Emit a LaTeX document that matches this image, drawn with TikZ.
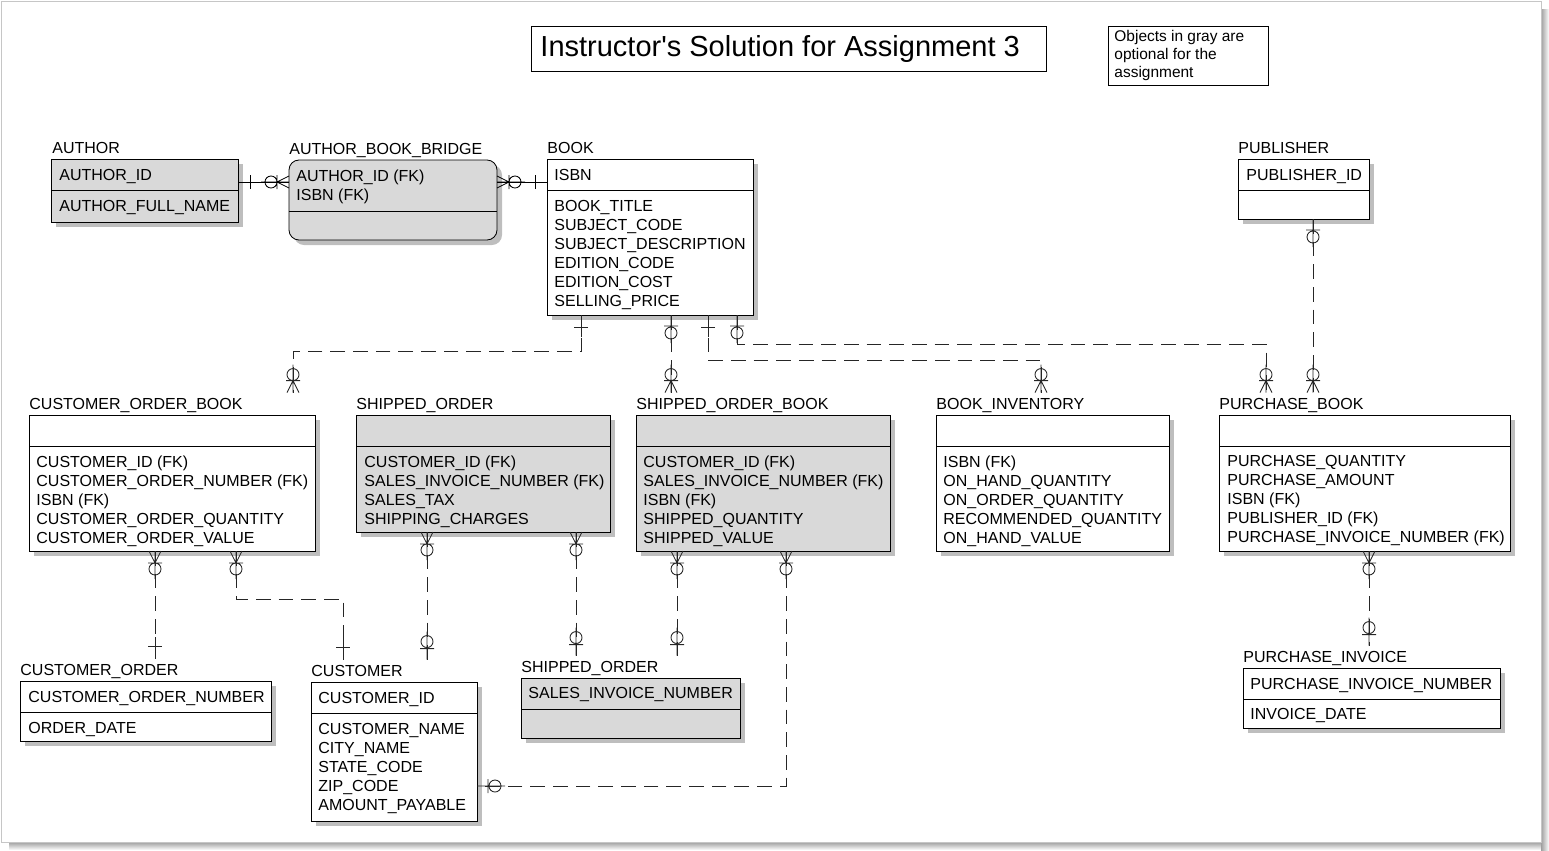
\documentclass[tikz,border=0pt]{standalone}
\usepackage{fontspec}
\setmainfont{Liberation Sans}
\usetikzlibrary{fit,shadows}

\definecolor{entgray}{RGB}{217,217,217}
\definecolor{shgray}{RGB}{190,190,190}

\tikzset{
  ent/.style={draw, fill=white, inner sep=0pt, outer sep=0pt,
    drop shadow={shadow xshift=3.75pt, shadow yshift=-3.75pt, fill=shgray, opacity=1}},
  optent/.style={ent, fill=entgray},
  lbl/.style={anchor=base west, inner sep=0pt, text height=12pt, text depth=2pt,
    font=\fontsize{12pt}{14.25pt}\selectfont},
  attr/.style={anchor=north west, inner sep=0pt, align=left,
    font=\fontsize{12pt}{14.25pt}\selectfont},
  rel/.style={black!85, dash pattern=on 11pt off 6pt},
  idrel/.style={black},
  % end marks: entity at the origin, line leaving along +x
  one/.pic={\draw[solid] (0,0) -- (22,0) (12,-7) -- (12,7);},
  zone/.pic={\draw[solid] (0,0) -- (28,0) (11,-7) -- (11,7) (18,0) circle[radius=6];},
  many/.pic={\draw[solid] (0,-6) -- (12,0) -- (0,6) (0,0) -- (28,0)
    (12,-7) -- (12,7) (18,0) circle[radius=6];}
}

\begin{document}
\begin{tikzpicture}[x=0.75pt, y=-0.75pt, line width=0.65pt]
  \useasboundingbox (0,0) rectangle (1549,850);

  % page frame
  \shade[top color=gray!75, bottom color=white] (9,842) rectangle (1549,850);
  \shade[left color=gray!75, right color=white] (1541,9) rectangle (1549,850);
  \draw[gray!45] (1,1) rectangle (1541,842);

  % title and note
  \node[draw, inner sep=0pt, fit={(531,26) (1046,71)}] (titlebox) {};
  \node[anchor=base west, inner sep=0pt, font=\fontsize{21.75pt}{26pt}\selectfont] (title) at (540,56)
    {Instructor\textquotesingle s Solution for Assignment 3};
  \node[draw, inner sep=0pt, fit={(1108,26) (1268,85)}] (notebox) {};
  \node[anchor=north west, inner sep=0pt, align=left, font=\fontsize{11.6pt}{13.5pt}\selectfont] (note) at (1114,30)
    {Objects in gray are\\optional for the\\assignment};

  % AUTHOR
  \node[lbl] (authorl) at (52,153) {AUTHOR};
  \node[optent, fit={(51,159) (238,222)}] (author) {};
  \draw (author.west |- 0,190) -- (author.east |- 0,190);
  \node[attr] (authork) at (59,169) {AUTHOR\_ID};
  \node[attr] (authora) at (59,200) {AUTHOR\_FULL\_NAME};

  % AUTHOR_BOOK_BRIDGE
  \node[lbl] (bridgel) at (289,154) {AUTHOR\_BOOK\_BRIDGE};
  \node[optent, rounded corners=7.5pt, fit={(289,160) (497,240)}] (bridge) {};
  \draw (bridge.west |- 0,211) -- (bridge.east |- 0,211);
  \node[attr] (bridgek) at (296,169) {AUTHOR\_ID (FK)\\ISBN (FK)};

  % BOOK
  \node[lbl] (bookl) at (547,153) {BOOK};
  \node[ent, fit={(547,159) (753,315)}] (book) {};
  \draw (book.west |- 0,190) -- (book.east |- 0,190);
  \node[attr] (bookk) at (554,169) {ISBN};
  \node[attr] (booka) at (554,200) {BOOK\_TITLE\\SUBJECT\_CODE\\SUBJECT\_DESCRIPTION\\EDITION\_CODE\\EDITION\_COST\\SELLING\_PRICE};

  % PUBLISHER
  \node[lbl] (publ) at (1238,153) {PUBLISHER};
  \node[ent, fit={(1238,159) (1369,219)}] (publisher) {};
  \draw (publisher.west |- 0,190) -- (publisher.east |- 0,190);
  \node[attr] (pubk) at (1246,169) {PUBLISHER\_ID};

  % CUSTOMER_ORDER_BOOK
  \node[lbl] (cobl) at (29,409) {CUSTOMER\_ORDER\_BOOK};
  \node[ent, fit={(29,415) (315,551)}] (cob) {};
  \draw (cob.west |- 0,446) -- (cob.east |- 0,446);
  \node[attr] (coba) at (36,455) {CUSTOMER\_ID (FK)\\CUSTOMER\_ORDER\_NUMBER (FK)\\ISBN (FK)\\CUSTOMER\_ORDER\_QUANTITY\\CUSTOMER\_ORDER\_VALUE};

  % SHIPPED_ORDER (top)
  \node[lbl] (sol) at (356,409) {SHIPPED\_ORDER};
  \node[optent, fit={(356,415) (610,532)}] (so) {};
  \draw (so.west |- 0,446) -- (so.east |- 0,446);
  \node[attr] (soa) at (364,455) {CUSTOMER\_ID (FK)\\SALES\_INVOICE\_NUMBER (FK)\\SALES\_TAX\\SHIPPING\_CHARGES};

  % SHIPPED_ORDER_BOOK
  \node[lbl] (sobl) at (636,409) {SHIPPED\_ORDER\_BOOK};
  \node[optent, fit={(636,415) (890,551)}] (sob) {};
  \draw (sob.west |- 0,446) -- (sob.east |- 0,446);
  \node[attr] (soba) at (643,455) {CUSTOMER\_ID (FK)\\SALES\_INVOICE\_NUMBER (FK)\\ISBN (FK)\\SHIPPED\_QUANTITY\\SHIPPED\_VALUE};

  % BOOK_INVENTORY
  \node[lbl] (bil) at (936,409) {BOOK\_INVENTORY};
  \node[ent, fit={(936,415) (1169,551)}] (bi) {};
  \draw (bi.west |- 0,446) -- (bi.east |- 0,446);
  \node[attr] (bia) at (943,455) {ISBN (FK)\\ON\_HAND\_QUANTITY\\ON\_ORDER\_QUANTITY\\RECOMMENDED\_QUANTITY\\ON\_HAND\_VALUE};

  % PURCHASE_BOOK
  \node[lbl] (pbl) at (1219,409) {PURCHASE\_BOOK};
  \node[ent, fit={(1219,415) (1510,551)}] (pb) {};
  \draw (pb.west |- 0,446) -- (pb.east |- 0,446);
  \node[attr] (pba) at (1227,455) {PURCHASE\_QUANTITY\\PURCHASE\_AMOUNT\\ISBN (FK)\\PUBLISHER\_ID (FK)\\PURCHASE\_INVOICE\_NUMBER (FK)};

  % CUSTOMER_ORDER
  \node[lbl] (col) at (20,675) {CUSTOMER\_ORDER};
  \node[ent, fit={(20,681) (271,741)}] (co) {};
  \draw (co.west |- 0,712) -- (co.east |- 0,712);
  \node[attr] (cok) at (28,691) {CUSTOMER\_ORDER\_NUMBER};
  \node[attr] (coa) at (28,722) {ORDER\_DATE};

  % CUSTOMER
  \node[lbl] (custl) at (311,676) {CUSTOMER};
  \node[ent, fit={(311,682) (477,821)}] (cust) {};
  \draw (cust.west |- 0,713) -- (cust.east |- 0,713);
  \node[attr] (custk) at (318,692) {CUSTOMER\_ID};
  \node[attr] (custa) at (318,723) {CUSTOMER\_NAME\\CITY\_NAME\\STATE\_CODE\\ZIP\_CODE\\AMOUNT\_PAYABLE};

  % SHIPPED_ORDER (bottom)
  \node[lbl] (so2l) at (521,672) {SHIPPED\_ORDER};
  \node[optent, fit={(521,678) (740,738)}] (so2) {};
  \draw (so2.west |- 0,709) -- (so2.east |- 0,709);
  \node[attr] (so2k) at (528,687) {SALES\_INVOICE\_NUMBER};

  % PURCHASE_INVOICE
  \node[lbl] (pil) at (1243,662) {PURCHASE\_INVOICE};
  \node[ent, fit={(1243,668) (1500,728)}] (pi) {};
  \draw (pi.west |- 0,699) -- (pi.east |- 0,699);
  \node[attr] (pik) at (1250,678) {PURCHASE\_INVOICE\_NUMBER};
  \node[attr] (pia) at (1250,708) {INVOICE\_DATE};

  % relationships
  \draw[idrel] (author.east |- 0,182) pic{one} -- (bridge.west |- 0,182) pic[rotate=180]{many};
  \draw[idrel] (book.west |- 0,182) pic[rotate=180]{one} -- (bridge.east |- 0,182) pic{many};
  \draw[rel] (book.south -| 581,0) pic[rotate=-90]{one} -- (581,351) -| (cobl.north -| 293,0) pic[rotate=90]{many};
  \draw[rel] (book.south -| 671,0) pic[rotate=-90]{zone} -- (sobl.north -| 671,0) pic[rotate=90]{many};
  \draw[rel] (book.south -| 708,0) pic[rotate=-90]{one} -- (708,360) -| (bil.north -| 1041,0) pic[rotate=90]{many};
  \draw[rel] (book.south -| 737,0) pic[rotate=-90]{zone} -- (737,344) -| (pbl.north -| 1266,0) pic[rotate=90]{many};
  \draw[rel] (publisher.south -| 1313,0) pic[rotate=-90]{zone} -- (pbl.north -| 1313,0) pic[rotate=90]{many};
  \draw[rel] (cob.south -| 155,0) pic[rotate=-90]{many} -- (col.north -| 155,0) pic[rotate=90]{one};
  \draw[rel] (cob.south -| 236,0) pic[rotate=-90]{many} -- (236,599) -| (custl.north -| 343,0) pic[rotate=90]{one};
  \draw[rel] (so.south -| 427,0) pic[rotate=-90]{many} -- (custl.north -| 427,0) pic[rotate=90]{zone};
  \draw[rel] (so.south -| 576,0) pic[rotate=-90]{many} -- (so2l.north -| 576,0) pic[rotate=90]{zone};
  \draw[rel] (sob.south -| 677,0) pic[rotate=-90]{many} -- (so2l.north -| 677,0) pic[rotate=90]{zone};
  \draw[rel] (sob.south -| 786,0) pic[rotate=-90]{many} |- (cust.east |- 0,786) pic{zone};
  \draw[rel] (pb.south -| 1369,0) pic[rotate=-90]{many} -- (pil.north -| 1369,0) pic[rotate=90]{zone};
\end{tikzpicture}
\end{document}
